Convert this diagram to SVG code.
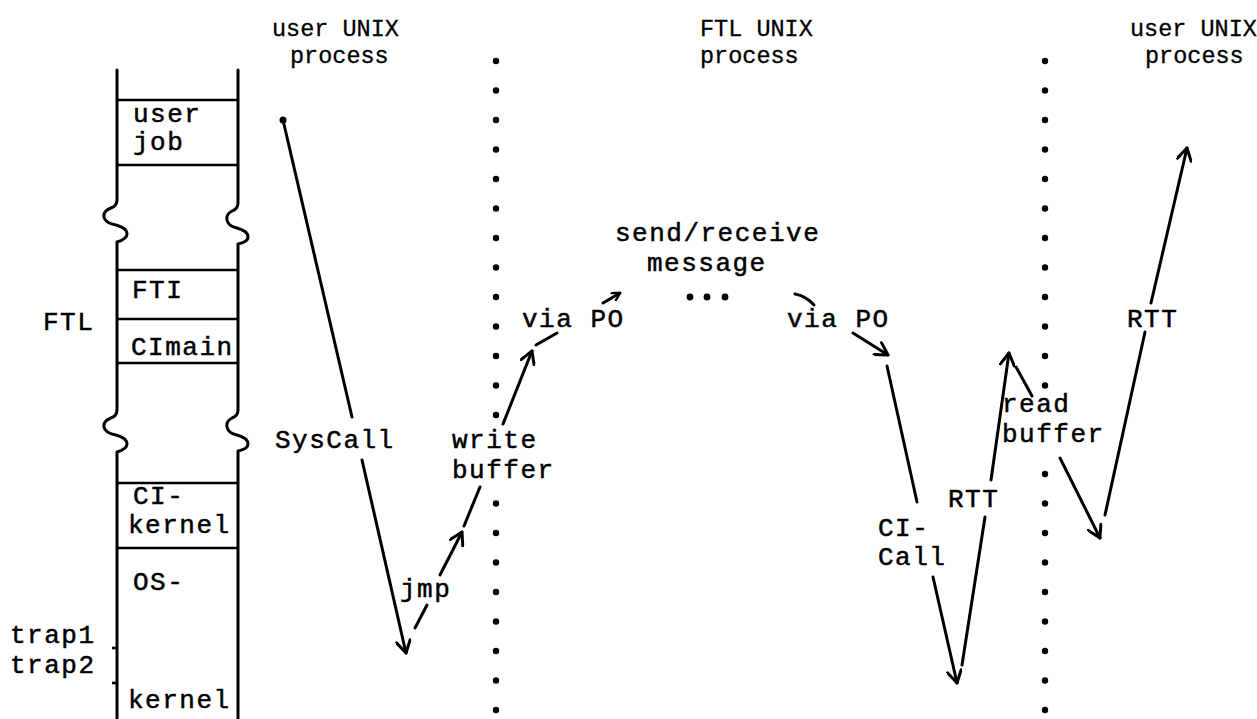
<svg xmlns="http://www.w3.org/2000/svg" width="1257" height="719" viewBox="0 0 1257 719">
<style>
.ln{stroke:#000;stroke-width:3;fill:none;stroke-linecap:round;stroke-linejoin:round}
.bx{stroke:#000;stroke-width:2.6;fill:none}
.t{font-family:"Liberation Mono","Courier New",monospace;font-size:26px;letter-spacing:1.5px;fill:#000;stroke:#000;stroke-width:0.5}
.hd{font-family:"Liberation Mono","Courier New",monospace;font-size:23.5px;fill:#000;stroke:#000;stroke-width:0.3}
.dot{fill:#000}
</style>
<defs>
<marker id="ah" viewBox="0 0 18 16" refX="15" refY="8" markerWidth="18" markerHeight="16" markerUnits="userSpaceOnUse" orient="auto">
<path d="M3,1 L15,8 L3,15" fill="none" stroke="#000" stroke-width="3" stroke-linecap="round" stroke-linejoin="round"/>
</marker>
<marker id="ahs" viewBox="0 0 18 16" refX="15" refY="8" markerWidth="11" markerHeight="10" markerUnits="userSpaceOnUse" orient="auto">
<path d="M3,1 L15,8 L3,15" fill="none" stroke="#000" stroke-width="4" stroke-linecap="round" stroke-linejoin="round"/>
</marker>
<g id="sep">
<circle cx="0" cy="61" r="3.2"/><circle cx="0" cy="90.5" r="3.2"/><circle cx="0" cy="120" r="3.2"/><circle cx="0" cy="149.5" r="3.2"/><circle cx="0" cy="179" r="3.2"/><circle cx="0" cy="208.5" r="3.2"/><circle cx="0" cy="238" r="3.2"/><circle cx="0" cy="267.5" r="3.2"/><circle cx="0" cy="297" r="3.2"/><circle cx="0" cy="326.5" r="3.2"/><circle cx="0" cy="356" r="3.2"/><circle cx="0" cy="385.5" r="3.2"/>
<circle cx="0" cy="503.5" r="3.2"/><circle cx="0" cy="533" r="3.2"/><circle cx="0" cy="562.5" r="3.2"/><circle cx="0" cy="592" r="3.2"/><circle cx="0" cy="621.5" r="3.2"/><circle cx="0" cy="651" r="3.2"/><circle cx="0" cy="680.5" r="3.2"/><circle cx="0" cy="710" r="3.2"/>
</g>
</defs>
<rect width="1257" height="719" fill="#fff"/>

<g id="headers">
<g id="hdr-user-left">
<text class="hd" x="272" y="36">user UNIX</text>
<text class="hd" x="290" y="63">process</text>
</g>
<g id="hdr-ftl">
<text class="hd" x="700" y="36">FTL UNIX</text>
<text class="hd" x="700" y="63">process</text>
</g>
<g id="hdr-user-right">
<text class="hd" x="1130" y="36">user UNIX</text>
<text class="hd" x="1145" y="63">process</text>
</g>
</g>

<g id="separator-left" class="dot">
<use href="#sep" x="496" y="0"/>
<circle cx="496" cy="415" r="3.2"/>
</g>
<g id="separator-right" class="dot">
<use href="#sep" x="1045" y="0"/>
<circle cx="1045" cy="474" r="3.2"/>
</g>

<g id="memory-stack">
<path class="ln" d="M117,70 L117,200 q0,6 -6,8 q-8,3 -7,9 q1,6 12,8 q11,3 11,9 q0,5 -10,8 L117,410 q0,6 -6,8 q-8,3 -7,9 q1,6 12,8 q11,3 11,9 q0,5 -10,8 L117,719"/>
<path class="ln" d="M238,70 L238,203 q0,6 -6,8 q-6,3 -5,9 q1,6 10,8 q11,3 11,9 q0,5 -10,7 L238,410 q0,6 -6,8 q-6,3 -5,9 q1,6 10,8 q11,3 11,9 q0,5 -10,7 L238,719"/>
<g id="slot-userjob">
<line class="bx" x1="117" y1="100" x2="238" y2="100"/>
<line class="bx" x1="117" y1="165" x2="238" y2="165"/>
<text class="t" x="133" y="122">user</text>
<text class="t" x="133" y="150">job</text>
</g>
<g id="slot-fti">
<line class="bx" x1="117" y1="270" x2="238" y2="270"/>
<text class="t" x="132" y="298">FTI</text>
</g>
<g id="slot-cimain">
<line class="bx" x1="117" y1="319" x2="238" y2="319"/>
<line class="bx" x1="117" y1="363" x2="238" y2="363"/>
<text class="t" x="131" y="355">CImain</text>
</g>
<g id="slot-cikernel">
<line class="bx" x1="117" y1="483" x2="238" y2="483"/>
<line class="bx" x1="117" y1="548" x2="238" y2="548"/>
<text class="t" x="133" y="504">CI-</text>
<text class="t" x="128" y="533">kernel</text>
</g>
<g id="slot-oskernel">
<text class="t" x="133" y="590">OS-</text>
<text class="t" x="128" y="708">kernel</text>
</g>
<g id="traps">
<line class="bx" x1="112" y1="648" x2="117" y2="648"/>
<line class="bx" x1="112" y1="683" x2="117" y2="683"/>
<text class="t" x="10" y="643">trap1</text>
<text class="t" x="10" y="673">trap2</text>
</g>
<text id="lbl-ftl" class="t" x="43" y="330">FTL</text>
</g>

<g id="connectors">
<circle cx="283" cy="120" r="3.5"/>
<line class="ln" x1="283" y1="120" x2="352" y2="417"/>
<line class="ln" x1="362" y1="460" x2="406" y2="653" marker-end="url(#ah)"/>
<line class="ln" x1="415" y1="628" x2="427" y2="605"/>
<line class="ln" x1="440" y1="575" x2="462" y2="532" marker-end="url(#ah)"/>
<line class="ln" x1="464" y1="526" x2="480" y2="487"/>
<line class="ln" x1="503" y1="424" x2="532" y2="351" marker-end="url(#ah)"/>
<line class="ln" x1="536" y1="345" x2="557" y2="333"/>
<line class="ln" x1="603" y1="303" x2="620" y2="293" marker-end="url(#ahs)"/>
<circle cx="690" cy="297" r="3.4"/><circle cx="707" cy="297" r="3.4"/><circle cx="725" cy="297" r="3.4"/>
<path class="ln" d="M795,294 Q806,296 814,305"/>
<line class="ln" x1="853" y1="333" x2="888" y2="355" marker-end="url(#ah)"/>
<line class="ln" x1="887" y1="366" x2="917" y2="502"/>
<line class="ln" x1="933" y1="577" x2="957" y2="683" marker-end="url(#ah)"/>
<line class="ln" x1="962" y1="665" x2="985" y2="517"/>
<line class="ln" x1="991" y1="480" x2="1009" y2="353" marker-end="url(#ah)"/>
<line class="ln" x1="1032" y1="396" x2="1016" y2="367"/>
<line class="ln" x1="1060" y1="458" x2="1100" y2="538" marker-end="url(#ah)"/>
<line class="ln" x1="1105" y1="515" x2="1145" y2="332"/>
<line class="ln" x1="1151" y1="303" x2="1187" y2="148" marker-end="url(#ah)"/>
</g>

<g id="labels">
<text class="t" x="275" y="448">SysCall</text>
<text class="t" x="400" y="597">jmp</text>
<text class="t" x="452" y="448">write</text>
<text class="t" x="452" y="478">buffer</text>
<text class="t" x="522" y="327">via PO</text>
<text class="t" x="615" y="241">send/receive</text>
<text class="t" x="647" y="271">message</text>
<text class="t" x="787" y="327">via PO</text>
<text class="t" x="878" y="536">CI-</text>
<text class="t" x="878" y="565">Call</text>
<text class="t" x="948" y="507">RTT</text>
<text class="t" x="1002" y="412">read</text>
<text class="t" x="1002" y="442">buffer</text>
<text class="t" x="1127" y="327">RTT</text>
</g>
</svg>
